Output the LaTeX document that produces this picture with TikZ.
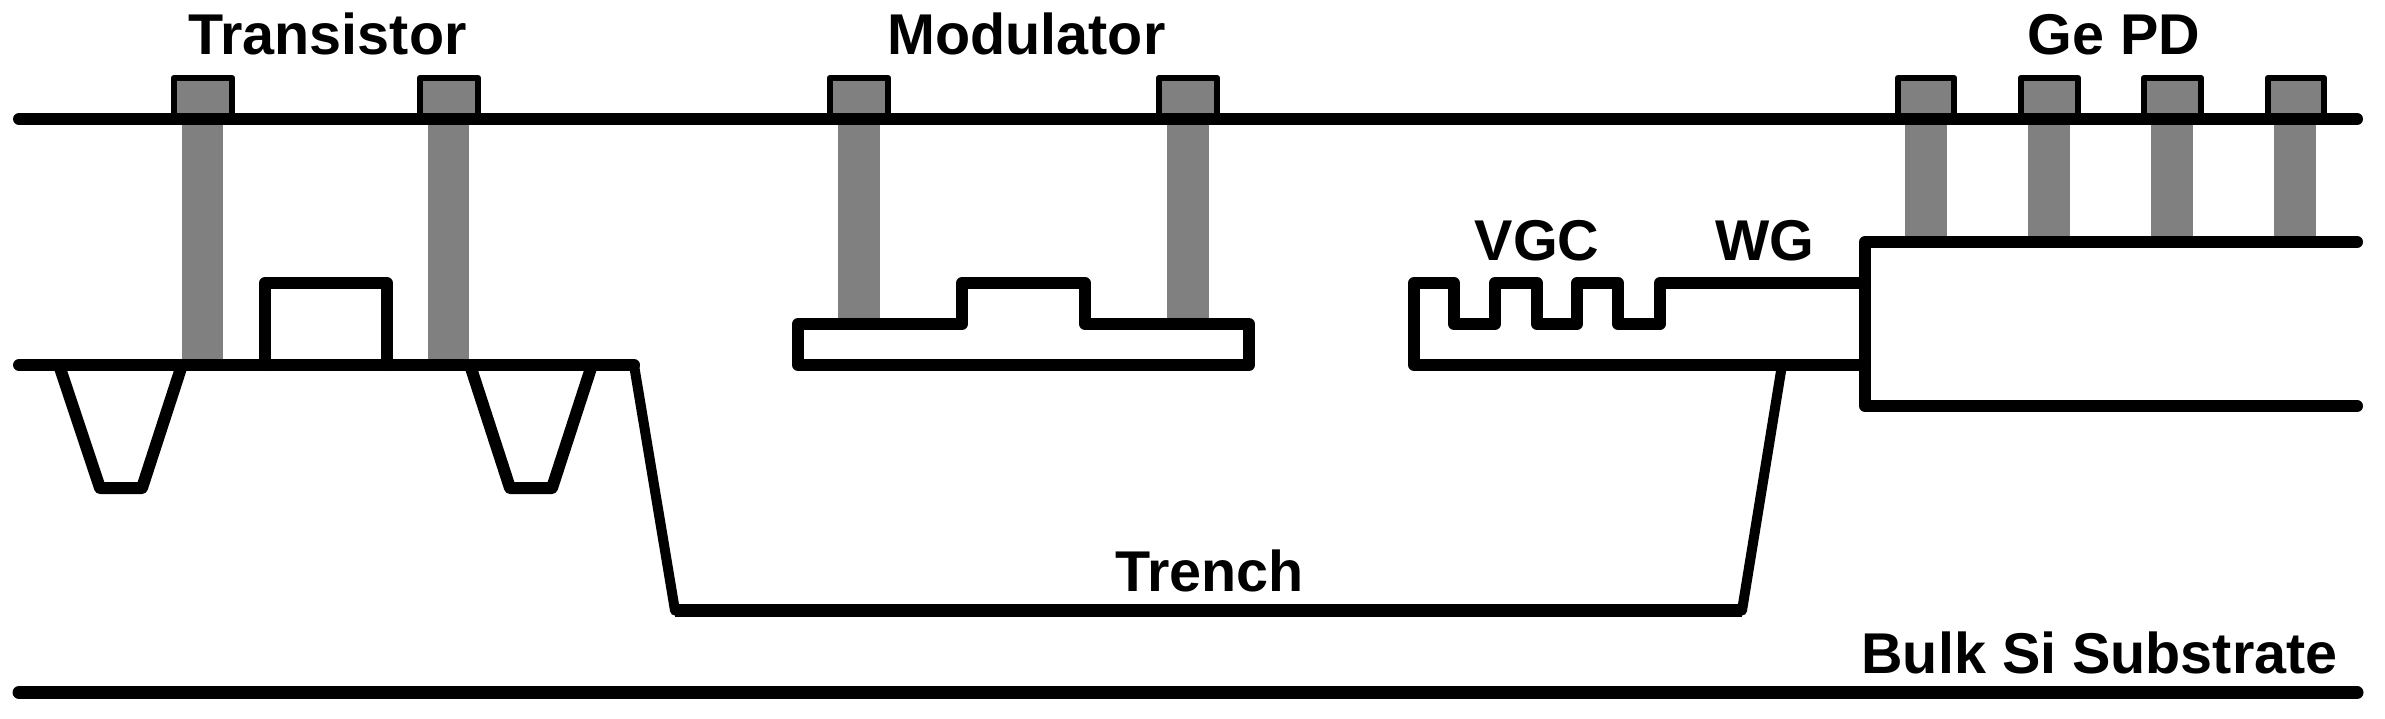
\documentclass[tikz,border=0pt]{standalone}
\usepackage{fontspec}
\setmainfont{Liberation Sans}
\definecolor{viagray}{HTML}{808080}
\tikzset{
  lab/.style={anchor=base,inner sep=0pt,font=\fontsize{57.5}{60}\selectfont\bfseries},
  via/.style={fill=viagray,draw=none},
  pad/.style={fill=viagray,draw=black,line width=6.3pt,line join=round},
  wall/.style={draw=black,line width=12pt,line join=round,line cap=round},
  sti/.style={draw=black,line width=12pt,line join=round},
  slope/.style={draw=black,line width=10pt,line join=round},
}
\begin{document}
\begin{tikzpicture}[x=1pt,y=-1pt]
\useasboundingbox (0,0) rectangle (2385,719);
% vias
\foreach \a/\b/\e in {182/223/365,428/469/365,838/880/318,1167/1209/318,1905/1947/236,2028/2070/236,2151/2193/236,2274/2316/236}
  \fill[via] (\a,100) rectangle (\b,\e);
% pads
\foreach \a/\b in {174/232,420/478,830/888,1159/1217,1898/1954,2021/2078,2144/2201,2268/2324}
  \draw[pad] (\a,78) rectangle (\b,119);
% horizontal lines
\draw[wall] (19,119) -- (2357,119);
\draw[wall,line width=13pt] (19,692.5) -- (2357,692.5);
% transistor
\draw[wall] (265,365) -- (265,283) -- (387,283) -- (387,365);
\draw[sti] (59,365) -- (100,488) -- (142,488) -- (182,365);
\draw[sti] (470,365) -- (510,488) -- (552,488) -- (592,365);
% trench
\draw[slope] (634,365) -- (675,610.5) -- (1742,610.5) -- (1782,365);
\draw[wall,line width=13pt,line cap=butt] (675,610.5) -- (1742,610.5);
\draw[wall] (19,365) -- (634,365);
% modulator
\draw[wall] (798,365) -- (798,324) -- (962,324) -- (962,283) -- (1085,283) -- (1085,324) -- (1249,324) -- (1249,365) -- cycle;
% grating and waveguide
\draw[wall] (1865,365) -- (1414,365) -- (1414,283) -- (1454,283) -- (1454,324) -- (1495,324) -- (1495,283) -- (1537,283) -- (1537,324) -- (1577,324) -- (1577,283) -- (1618,283) -- (1618,324) -- (1660,324) -- (1660,283) -- (1865,283);
% Ge PD
\draw[wall] (2357,242) -- (1865,242) -- (1865,406) -- (2357,406);
% labels
\node[lab] (transistor) at (327.5,55) {Transistor};
\node[lab] (modulator) at (1026.5,55) {Modulator};
\node[lab] (gepd) at (2114,55) {Ge PD};
\node[lab] (vgc) at (1537,261) {VGC};
\node[lab] (wg) at (1764.5,261) {WG};
\node[lab] (trench) at (1209.5,591) {Trench};
\node[lab] (bulk) at (2099.5,673) {Bulk Si Substrate};
\end{tikzpicture}
\end{document}
